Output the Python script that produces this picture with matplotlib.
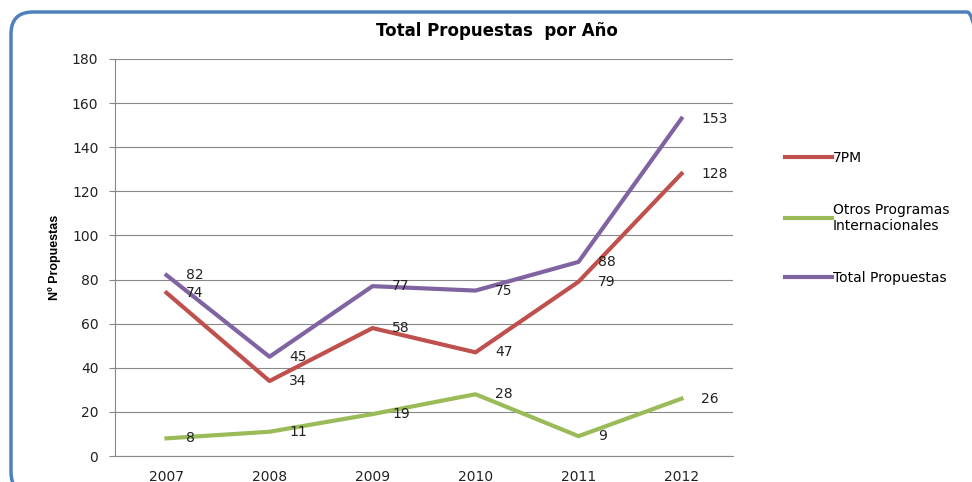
import matplotlib.pyplot as plt
from matplotlib.patches import FancyBboxPatch
from matplotlib.lines import Line2D
from matplotlib.transforms import IdentityTransform

years = ["2007", "2008", "2009", "2010", "2011", "2012"]
pm7 = [74, 34, 58, 47, 79, 128]
otros = [8, 11, 19, 28, 9, 26]
total = [82, 45, 77, 75, 88, 153]

series_names = ["7PM", "Otros Programas\nInternacionales", "Total Propuestas"]
colors = ["#C0504D", "#9BBB59", "#8064A2"]

plt.rcParams['font.family'] = ['DejaVu Sans']

fig = plt.figure(figsize=(9.72, 4.82), dpi=100)
W, H = 972, 482

# rounded frame, in pixels (origin bottom-left), cut by the right and bottom edges
frame = FancyBboxPatch((11, -12), 978, H - 12 + 12,
                       boxstyle="round,pad=0,rounding_size=22",
                       transform=IdentityTransform(), fill=False,
                       edgecolor="#4F81BD", linewidth=2.5, clip_on=False)
fig.patches.append(frame)

ax = fig.add_axes([115 / W, 1 - 456 / H, (733 - 115) / W, (456 - 59) / H])
x = range(len(years))
for vals, c in [(pm7, colors[0]), (otros, colors[1]), (total, colors[2])]:
    ax.plot(x, vals, color=c, linewidth=3, solid_joinstyle='round')
    for i, v in enumerate(vals):
        ax.annotate(str(v), (i, v), xytext=(14, 0), textcoords='offset points',
                    ha='left', va='center', fontsize=10, color='#222222')

ax.set_xlim(-0.5, len(years) - 0.5)
ax.set_ylim(0, 180)
ax.set_yticks(range(0, 181, 20))
ax.set_xticks(list(x))
ax.set_xticklabels(years)
ax.grid(axis='y', color='#888888', linewidth=0.8)
ax.set_axisbelow(True)
for s in ['top', 'right']:
    ax.spines[s].set_visible(False)
ax.spines['left'].set_color('#888888')
ax.spines['bottom'].set_color('#888888')
ax.tick_params(axis='y', length=4, color='#888888', labelsize=10, labelcolor='#222222', pad=8)
ax.tick_params(axis='x', length=0, labelsize=10, labelcolor='#222222', pad=10)
ax.set_ylabel("Nº Propuestas", fontsize=9, fontweight='bold', labelpad=8,
              family='Liberation Sans')

fig.text(497 / W, 1 - 31 / H, "Total Propuestas  por Año", ha='center', va='center',
         fontsize=12, fontweight='bold')

handles = [Line2D([], [], color=c, linewidth=3) for c in colors]
fig.legend(handles, series_names, loc='upper left', bbox_to_anchor=(772 / W, 1 - 138 / H),
           frameon=False, fontsize=10, handlelength=3.4, handletextpad=0.1,
           labelspacing=2.75)

fig.savefig("out.png", dpi=100)
